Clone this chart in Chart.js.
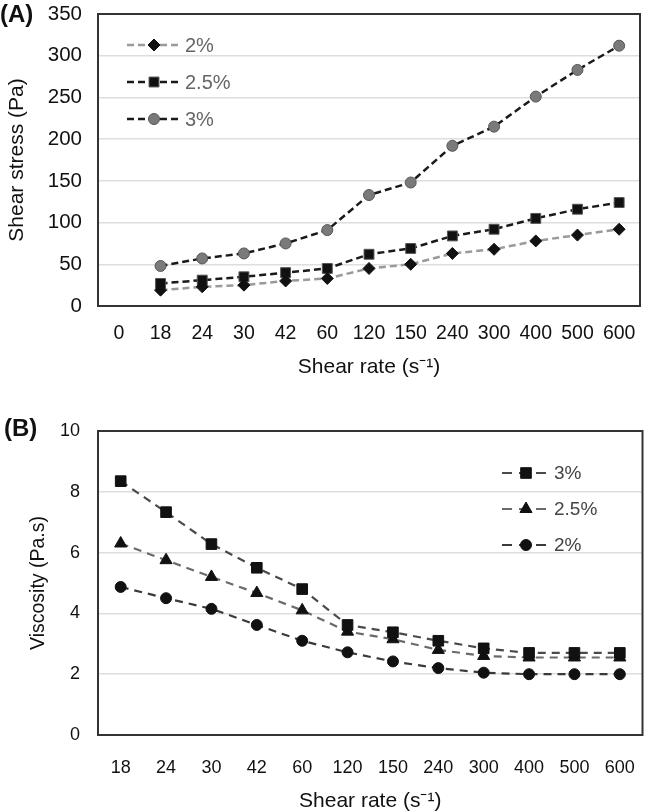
<!DOCTYPE html>
<html>
<head>
<meta charset="utf-8">
<script src="https://cdn.jsdelivr.net/npm/chart.js@4.4.0/dist/chart.umd.min.js"></script>
<style>
  body { margin: 0; background: #fff; font-family: "Liberation Sans", Arial, sans-serif; }
  .panel { position: absolute; left: 0; width: 651px; }
  .tag { position: absolute; font-weight: bold; font-size: 24px; line-height: 28px; color: #111; }
</style>
</head>
<body>
<div class="panel" style="top:0;height:385px"><canvas id="chartA" width="651" height="385"></canvas></div>
<div class="panel" style="top:385px;height:427px"><canvas id="chartB" width="651" height="427"></canvas></div>
<div class="tag" style="left:0;top:0">(A)</div>
<div class="tag" style="left:4px;top:414px">(B)</div>
<script>
// Panel A - shear stress vs shear rate
const ratesA = ['0', '18', '24', '30', '42', '60', '120', '150', '240', '300', '400', '500', '600'];
const stress2 = [null, 19, 23, 25, 30, 33, 45, 50, 63, 68, 78, 85, 92];
const stress25 = [null, 27, 31, 35, 40, 45, 62, 69, 84, 92, 105, 116, 124];
const stress3 = [null, 48, 57, 63, 75, 91, 133, 148, 192, 215, 251, 283, 312];
const stressMax = 350, stressStep = 50;

// Panel B - viscosity vs shear rate
const ratesB = ['18', '24', '30', '42', '60', '120', '150', '240', '300', '400', '500', '600'];
const visc3 = [8.35, 7.33, 6.28, 5.5, 4.8, 3.62, 3.38, 3.1, 2.85, 2.7, 2.7, 2.7];
const visc25 = [6.3, 5.75, 5.2, 4.67, 4.1, 3.4, 3.15, 2.8, 2.6, 2.55, 2.55, 2.55];
const visc2 = [4.87, 4.5, 4.15, 3.62, 3.1, 2.72, 2.42, 2.2, 2.05, 2.0, 2.0, 2.0];
const viscMax = 10, viscStep = 2;

const FONT = 'Liberation Sans';
const drawPoint = Chart.helpers.drawPoint;

// full box around the plot area (Chart.js only draws left/bottom)
const boxPlugin = {
  id: 'box',
  beforeDatasetsDraw(chart) {
    const { ctx, chartArea: a } = chart;
    ctx.save();
    ctx.strokeStyle = '#333';
    ctx.lineWidth = 2;
    ctx.strokeRect(a.left, a.top, a.right - a.left, a.bottom - a.top);
    ctx.restore();
  }
};

// legend drawn inside the plot, dashed line + marker + label
const insideLegend = {
  id: 'insideLegend',
  afterDraw(chart, args, opts) {
    const { ctx } = chart;
    opts.order.forEach((di, row) => {
      const ds = chart.data.datasets[di];
      const y = opts.y + row * opts.gap;
      ctx.save();
      ctx.strokeStyle = ds.borderColor;
      ctx.lineWidth = ds.borderWidth;
      ctx.setLineDash(opts.dash);
      ctx.beginPath();
      ctx.moveTo(opts.x, y);
      ctx.lineTo(opts.x + opts.len, y);
      ctx.stroke();
      ctx.setLineDash([]);
      ctx.fillStyle = ds.pointBackgroundColor;
      ctx.strokeStyle = ds.pointBorderColor;
      ctx.lineWidth = ds.pointBorderWidth;
      drawPoint(ctx, { pointStyle: ds.pointStyle, radius: ds.pointRadius, rotation: 0, borderWidth: ds.pointBorderWidth }, opts.x + opts.len / 2, y);
      ctx.fillStyle = opts.color;
      ctx.font = opts.fontSize + 'px "' + FONT + '"';
      ctx.textBaseline = 'middle';
      ctx.fillText(ds.label, opts.x + opts.len + 4, y + 1);
      ctx.restore();
    });
  }
};

// keep the plot box exactly where padding puts it
const fixY = (w) => (scale) => { scale.width = w; scale.paddingTop = 0; scale.paddingBottom = 0; };
const fixX = (h) => (scale) => { scale.height = h; scale.paddingLeft = 0; scale.paddingRight = 0; };

new Chart(document.getElementById('chartA'), {
  type: 'line',
  data: {
    labels: ratesA,
    datasets: [
      { label: '2%', data: stress2, borderColor: '#9a9a9a', borderWidth: 2.5, borderDash: [7, 4],
        pointStyle: 'rectRot', pointRadius: 6, pointBackgroundColor: '#111', pointBorderColor: '#111', pointBorderWidth: 1 },
      { label: '2.5%', data: stress25, borderColor: '#1a1a1a', borderWidth: 2.5, borderDash: [7, 4],
        pointStyle: 'rect', pointRadius: 7, pointBackgroundColor: '#111', pointBorderColor: '#555', pointBorderWidth: 1 },
      { label: '3%', data: stress3, borderColor: '#1a1a1a', borderWidth: 2.5, borderDash: [7, 4],
        pointStyle: 'circle', pointRadius: 5.5, pointBackgroundColor: '#7a7a7a', pointBorderColor: '#555', pointBorderWidth: 1 }
    ]
  },
  options: {
    responsive: false,
    animation: false,
    devicePixelRatio: 1,
    layout: { padding: { top: 14, right: 11, left: 0, bottom: 0 } },
    plugins: {
      legend: { display: false },
      tooltip: { enabled: false },
      insideLegend: { order: [0, 1, 2], x: 127, y: 45, gap: 37, len: 54, dash: [7, 4], color: '#666', fontSize: 20 }
    },
    scales: {
      x: {
        offset: true,
        grid: { display: false, drawTicks: false },
        border: { display: true, color: '#333', width: 2 },
        ticks: { color: '#111', padding: 16, font: { family: FONT, size: 19.5 }, maxRotation: 0, autoSkip: false },
        title: { display: true, text: 'Shear rate (s\u207B\u00B9)', color: '#111', padding: { top: 0, bottom: 5 }, font: { family: FONT, size: 21 } },
        afterFit: fixX(79)
      },
      y: {
        min: 0, max: stressMax,
        grid: { color: '#dedede', lineWidth: 1.5, drawTicks: false },
        border: { display: true, color: '#333', width: 2 },
        ticks: { stepSize: stressStep, color: '#111', padding: 16, font: { family: FONT, size: 20.5 } },
        title: { display: true, text: 'Shear stress (Pa)', color: '#111', padding: { top: 5, bottom: 0 }, font: { family: FONT, size: 21 } },
        afterFit: fixY(98)
      }
    }
  },
  plugins: [boxPlugin, insideLegend]
});

new Chart(document.getElementById('chartB'), {
  type: 'line',
  data: {
    labels: ratesB,
    datasets: [
      { label: '3%', data: visc3, borderColor: '#4a4a4a', borderWidth: 2.2, borderDash: [8, 6],
        pointStyle: 'rect', pointRadius: 7.5, pointBackgroundColor: '#111', pointBorderColor: '#111', pointBorderWidth: 1 },
      { label: '2.5%', data: visc25, borderColor: '#6a6a6a', borderWidth: 2.2, borderDash: [8, 6],
        pointStyle: 'triangle', pointRadius: 7, pointBackgroundColor: '#111', pointBorderColor: '#111', pointBorderWidth: 1 },
      { label: '2%', data: visc2, borderColor: '#3a3a3a', borderWidth: 2.2, borderDash: [8, 6],
        pointStyle: 'circle', pointRadius: 5.5, pointBackgroundColor: '#111', pointBorderColor: '#111', pointBorderWidth: 1 }
    ]
  },
  options: {
    responsive: false,
    animation: false,
    devicePixelRatio: 1,
    layout: { padding: { top: 46, right: 8, left: 0, bottom: 0 } },
    plugins: {
      legend: { display: false },
      tooltip: { enabled: false },
      insideLegend: { order: [0, 1, 2], x: 502, y: 88, gap: 36, len: 48, dash: [10, 7], color: '#444', fontSize: 19 }
    },
    scales: {
      x: {
        offset: true,
        grid: { display: false, drawTicks: false },
        border: { display: true, color: '#333', width: 2 },
        ticks: { color: '#111', padding: 22, font: { family: FONT, size: 18 }, maxRotation: 0, autoSkip: false },
        title: { display: true, text: 'Shear rate (s\u207B\u00B9)', color: '#111', padding: { top: 0, bottom: 0 }, font: { family: FONT, size: 21, lineHeight: 1 } },
        afterFit: fixX(77)
      },
      y: {
        min: 0, max: viscMax,
        grid: { color: '#dedede', lineWidth: 1.5, drawTicks: false },
        border: { display: true, color: '#333', width: 2 },
        ticks: { stepSize: viscStep, color: '#111', padding: 18, font: { family: FONT, size: 18 } },
        title: { display: true, text: 'Viscosity (Pa.s)', color: '#111', padding: { top: 27, bottom: 0 }, font: { family: FONT, size: 19.5 } },
        afterFit: fixY(98)
      }
    }
  },
  plugins: [boxPlugin, insideLegend]
});
</script>
</body>
</html>
